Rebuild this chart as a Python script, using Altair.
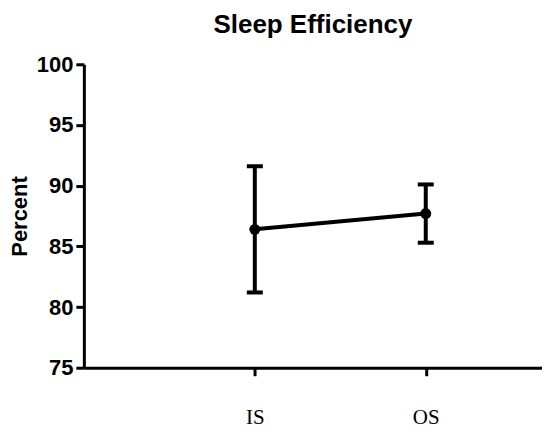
import altair as alt
import pandas as pd

groups = ["IS", "OS"]
means = [86.4, 87.7]
lower = [81.2, 85.3]
upper = [91.6, 90.1]

idx = list(range(1, len(groups) + 1))
df = pd.DataFrame({"group": groups, "idx": idx, "mean": means, "lower": lower, "upper": upper})

label_expr = " : ".join(
    [f"datum.value == {i} ? '{g}'" for i, g in zip(idx, groups)]
) + " : ''"

xenc = alt.X(
    "idx:Q",
    scale=alt.Scale(domain=[0, 2.68], nice=False, zero=False),
    axis=alt.Axis(
        values=idx,
        labelExpr=label_expr,
        title=None,
        labelFont="Liberation Serif",
        labelFontSize=21,
        labelPadding=31,
        tickSize=8,
        tickWidth=3,
        domainWidth=3,
        domainColor="black",
        tickColor="black",
        labelColor="black",
        grid=False,
    ),
)

yscale = alt.Scale(domain=[75, 100], nice=False, zero=False)
yaxis = alt.Axis(
    values=[75, 80, 85, 90, 95, 100],
    title="Percent",
    titleFont="Liberation Sans",
    titleFontSize=22,
    titleFontWeight="bold",
    titleColor="black",
    titlePadding=5,
    labelFont="Liberation Sans",
    labelFontSize=22,
    labelFontWeight="bold",
    labelColor="black",
    labelPadding=3,
    tickSize=8,
    tickWidth=3,
    domainWidth=3,
    domainColor="black",
    tickColor="black",
    grid=False,
)

base = alt.Chart(df)

line = base.mark_line(color="black", strokeWidth=4).encode(
    x=xenc, y=alt.Y("mean:Q", scale=yscale, axis=yaxis)
)
bars = base.mark_rule(color="black", strokeWidth=4).encode(
    x="idx:Q", y="lower:Q", y2="upper:Q"
)
cap_lo = base.mark_tick(color="black", orient="horizontal", size=16, thickness=4, opacity=1).encode(
    x="idx:Q", y="lower:Q"
)
cap_hi = base.mark_tick(color="black", orient="horizontal", size=16, thickness=4, opacity=1).encode(
    x="idx:Q", y="upper:Q"
)
points = base.mark_point(filled=True, color="black", size=120, opacity=1).encode(
    x="idx:Q", y="mean:Q"
)

chart = (
    alt.layer(line, bars, cap_lo, cap_hi, points)
    .properties(
        width=459,
        height=304,
        autosize="none",
        padding={"left": 76, "top": 56, "right": 0, "bottom": 61},
        title=alt.TitleParams(
            "Sleep Efficiency",
            font="Liberation Sans",
            fontSize=26,
            fontWeight="bold",
            color="black",
            anchor="middle",
            offset=15,
        ),
    )
    .configure_view(stroke=None)
)

chart.save("out.html", embed_options={"renderer": "svg", "actions": False})
